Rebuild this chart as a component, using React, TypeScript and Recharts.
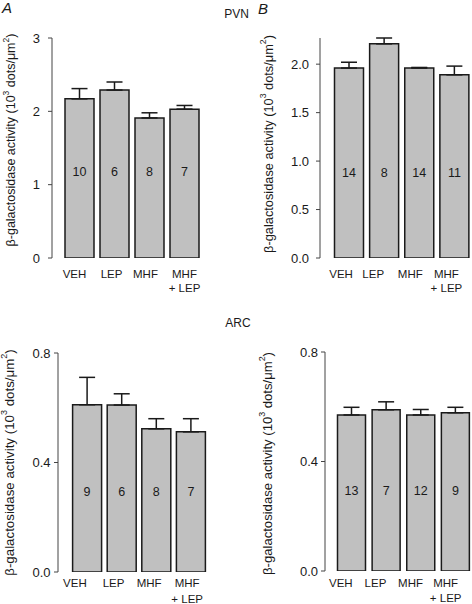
import React from 'react';
import { BarChart, Bar, XAxis, YAxis, ErrorBar, LabelList, Label } from 'recharts';

const groups = ['VEH', 'LEP', 'MHF', 'MHF\n+ LEP'];

const pvnAValues = [2.17, 2.29, 1.91, 2.03];
const pvnAErrors = [0.14, 0.11, 0.07, 0.05];
const pvnACounts = [10, 6, 8, 7];
const pvnATicks = [0, 1, 2, 3];

const pvnBValues = [1.96, 2.21, 1.96, 1.89];
const pvnBErrors = [0.06, 0.06, 0.006, 0.09];
const pvnBCounts = [14, 8, 14, 11];
const pvnBTicks = [0, 0.5, 1.0, 1.5, 2.0];

const arcAValues = [0.611, 0.61, 0.523, 0.512];
const arcAErrors = [0.1, 0.041, 0.037, 0.048];
const arcACounts = [9, 6, 8, 7];
const arcATicks = [0, 0.4, 0.8];

const arcBValues = [0.57, 0.589, 0.57, 0.578];
const arcBErrors = [0.028, 0.029, 0.02, 0.02];
const arcBCounts = [13, 7, 12, 9];
const arcBTicks = [0, 0.4, 0.8];

const FONT = '"Liberation Sans", Arial, Helvetica, sans-serif';
const BAR_FILL = '#c0c0c0';
const INK = '#1a1a1a';
const AXIS = '#444';

type Cfg = {
  left: number; top: number; width: number; height: number;
  marginTop: number; marginRight: number;
  yWidth: number; xHeight: number; padLeft: number; barSize: number;
  domain: [number, number]; ticks: number[]; digits: number;
  tickMargin: number;
  labelX: number; labelDy: number; labelSize: number;
  nOffset: number; xLabelOffset: number; lineGap: number; xShift: number[];
  values: number[]; errors: number[]; counts: number[];
};

const panels: Cfg[] = [
  {
    left: 0, top: 0, width: 236, height: 300, marginTop: 38, marginRight: 34,
    yWidth: 52, xHeight: 42, padLeft: 10, barSize: 29,
    domain: [0, 3], ticks: pvnATicks, digits: 0, tickMargin: 8,
    labelX: 11, labelDy: -8, labelSize: 12.5, nOffset: 86, xLabelOffset: 16, lineGap: 13.5,
    xShift: [-5, -3, -4, 0],
    values: pvnAValues, errors: pvnAErrors, counts: pvnACounts,
  },
  {
    left: 236, top: 0, width: 236, height: 300, marginTop: 38, marginRight: 0,
    yWidth: 84, xHeight: 42, padLeft: 11.5, barSize: 29,
    domain: [0, 2.27], ticks: pvnBTicks, digits: 1, tickMargin: 7,
    labelX: 32, labelDy: -4, labelSize: 12.8, nOffset: 85, xLabelOffset: 16, lineGap: 13.5,
    xShift: [-8, -11, -9, -8],
    values: pvnBValues, errors: pvnBErrors, counts: pvnBCounts,
  },
  {
    left: 0, top: 300, width: 236, height: 304, marginTop: 53, marginRight: 28,
    yWidth: 58, xHeight: 32, padLeft: 11.6, barSize: 29,
    domain: [0, 0.8], ticks: arcATicks, digits: 1, tickMargin: 3.5,
    labelX: 9, labelDy: 0, labelSize: 13.3, nOffset: 80, xLabelOffset: 11, lineGap: 15.5,
    xShift: [-12, -8, -7, -3.5],
    values: arcAValues, errors: arcAErrors, counts: arcACounts,
  },
  {
    left: 236, top: 300, width: 237, height: 304, marginTop: 52, marginRight: 0,
    yWidth: 89, xHeight: 33, padLeft: 9.5, barSize: 28,
    domain: [0, 0.8], ticks: arcBTicks, digits: 1, tickMargin: 3,
    labelX: 31, labelDy: 2, labelSize: 13.1, nOffset: 80, xLabelOffset: 12, lineGap: 14.5,
    xShift: [-11, -11, -10.5, -10],
    values: arcBValues, errors: arcBErrors, counts: arcBCounts,
  },
];

const YLabel = ({ viewBox, cfg }: any) => {
  const cx = viewBox.x + cfg.labelX;
  const cy = viewBox.y + viewBox.height / 2 + cfg.labelDy;
  const s = cfg.labelSize;
  const sup = s * 0.68;
  return (
    <text
      transform={`translate(${cx},${cy}) rotate(-90)`}
      textAnchor="middle"
      dominantBaseline="central"
      fontSize={s}
      fontFamily={FONT}
      fill={INK}
    >
      <tspan>β-galactosidase activity (10</tspan>
      <tspan dy={-s * 0.38} fontSize={sup}>3</tspan>
      <tspan dy={s * 0.38}> dots/μm</tspan>
      <tspan dy={-s * 0.38} fontSize={sup}>2</tspan>
      <tspan dy={s * 0.38}>)</tspan>
    </text>
  );
};

const XTick = ({ x, y, payload, index, cfg }: any) => {
  const lines = String(payload.value).split('\n');
  const cx = x + (cfg.xShift[index] || 0);
  return (
    <text textAnchor="middle" fontSize={11.5} fontFamily={FONT} fill={INK}>
      {lines.map((l, i) => (
        <tspan key={i} x={cx} y={y + cfg.xLabelOffset + i * cfg.lineGap} dominantBaseline="central">
          {l}
        </tspan>
      ))}
    </text>
  );
};

const Panel = ({ cfg }: { cfg: Cfg }) => {
  const data = groups.map((g, i) => ({
    group: g,
    value: cfg.values[i],
    err: [0, cfg.errors[i]],
    n: cfg.counts[i],
  }));
  return (
    <div style={{ position: 'absolute', left: cfg.left, top: cfg.top }}>
      <BarChart
        width={cfg.width}
        height={cfg.height}
        data={data}
        margin={{ top: cfg.marginTop, right: cfg.marginRight, bottom: 0, left: 0 }}
      >
        <XAxis
          dataKey="group"
          axisLine={false}
          tickLine={false}
          tickSize={0}
          tickMargin={0}
          height={cfg.xHeight}
          padding={{ left: cfg.padLeft, right: 0 }}
          interval={0}
          tick={(p: any) => <XTick {...p} cfg={cfg} />}
        />
        <YAxis
          type="number"
          domain={cfg.domain}
          ticks={cfg.ticks}
          allowDataOverflow
          width={cfg.yWidth}
          tickSize={4}
          tickMargin={cfg.tickMargin}
          axisLine={{ stroke: AXIS, strokeWidth: 1 }}
          tickLine={{ stroke: AXIS, strokeWidth: 1 }}
          tick={{ fill: INK, fontSize: 13, fontFamily: FONT }}
          tickFormatter={(v: number) => v.toFixed(cfg.digits)}
        >
          <Label content={(p: any) => <YLabel {...p} cfg={cfg} />} />
        </YAxis>
        <Bar
          dataKey="value"
          fill={BAR_FILL}
          stroke={INK}
          strokeWidth={1.5}
          barSize={cfg.barSize}
          isAnimationActive={false}
        >
          <ErrorBar dataKey="err" width={8} stroke={INK} strokeWidth={1.5} direction="y" />
          <LabelList
            dataKey="n"
            content={(p: any) => (
              <text
                x={p.x + p.width / 2}
                y={p.y + p.height - cfg.nOffset}
                textAnchor="middle"
                dominantBaseline="central"
                fontSize={12.5}
                fontFamily={FONT}
                fill={INK}
              >
                {p.value}
              </text>
            )}
          />
        </Bar>
      </BarChart>
    </div>
  );
};

export default function App() {
  return (
    <div
      style={{
        position: 'absolute',
        left: 0,
        top: 0,
        width: 472,
        height: 604,
        overflow: 'hidden',
        background: '#fff',
        fontFamily: FONT,
      }}
    >
      {panels.map((cfg, i) => (
        <Panel key={i} cfg={cfg} />
      ))}
      <svg
        width={472}
        height={604}
        style={{ position: 'absolute', left: 0, top: 0, pointerEvents: 'none' }}
      >
        <text x={2} y={13} fontSize={15} fontStyle="italic" fontFamily={FONT} fill={INK}>A</text>
        <text x={258} y={14} fontSize={15} fontStyle="italic" fontFamily={FONT} fill={INK}>B</text>
        <text x={236.5} y={14} fontSize={12} textAnchor="middle" dominantBaseline="central" fontFamily={FONT} fill={INK}>PVN</text>
        <text x={238} y={323} fontSize={12} textAnchor="middle" dominantBaseline="central" fontFamily={FONT} fill={INK}>ARC</text>
      </svg>
    </div>
  );
}
